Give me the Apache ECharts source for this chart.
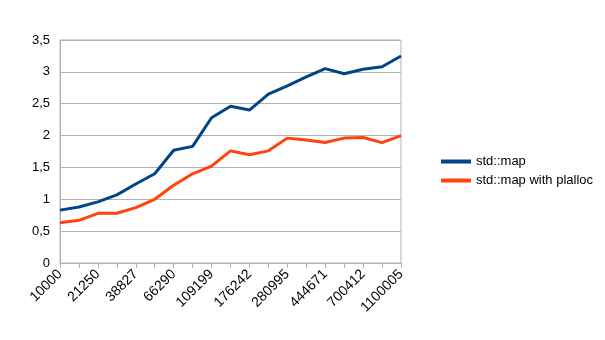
<!DOCTYPE html>
<html>
<head>
<meta charset="utf-8">
<script src="https://cdn.jsdelivr.net/npm/echarts@6/dist/echarts.min.js"></script>
<style>
  html, body { margin: 0; padding: 0; background: #fff; }
  #chart { width: 605px; height: 340px; }
</style>
</head>
<body>
<div id="chart"></div>
<script>
// Container sizes (number of elements)
const sizes = [
  '10000', '15000', '21250', '29062', '38827', '51033', '66290', '85362',
  '109199', '138998', '176242', '222802', '280995', '353743', '444671',
  '558338', '700412', '878015', '1100005'
];

// Timings for plain std::map
const stdMap = [
  0.83, 0.88, 0.96, 1.07, 1.24, 1.40, 1.77, 1.83, 2.28, 2.46,
  2.40, 2.65, 2.78, 2.92, 3.05, 2.97, 3.04, 3.08, 3.25
];

// Timings for std::map using the plalloc allocator
const stdMapPlalloc = [
  0.63, 0.67, 0.78, 0.78, 0.87, 1.00, 1.22, 1.40, 1.52, 1.76,
  1.70, 1.76, 1.96, 1.93, 1.89, 1.96, 1.97, 1.89, 2.00
];

const yTicks = { min: 0, max: 3.5, interval: 0.5 };

const font = 'Liberation Sans, Arial, sans-serif';
const gridColor = '#b3b3b3';

const chart = echarts.init(document.getElementById('chart'), null, { renderer: 'canvas' });

chart.setOption({
  animation: false,
  backgroundColor: '#ffffff',
  grid: {
    left: 60, right: 204, top: 40, bottom: 77,
    show: true, borderColor: gridColor, borderWidth: 1
  },
  legend: {
    orient: 'vertical',
    left: 436, top: 150,
    itemWidth: 30, itemHeight: 4, itemGap: 6,
    icon: 'rect',
    textStyle: { fontFamily: font, fontSize: 13, color: '#000' },
    data: ['std::map', 'std::map with plalloc']
  },
  xAxis: {
    type: 'category',
    data: sizes,
    boundaryGap: false,
    axisLine: { lineStyle: { color: gridColor, width: 1 } },
    axisTick: { show: true, length: 5, alignWithLabel: true, interval: 0, lineStyle: { color: gridColor } },
    axisLabel: {
      interval: 1, rotate: 45, margin: 9,
      fontFamily: font, fontSize: 14, color: '#000'
    },
    splitLine: { show: false }
  },
  yAxis: {
    type: 'value',
    min: yTicks.min, max: yTicks.max, interval: yTicks.interval,
    axisLine: { show: true, lineStyle: { color: gridColor, width: 1 } },
    axisTick: { show: false },
    axisLabel: {
      margin: 10,
      fontFamily: font, fontSize: 13, color: '#000',
      formatter: v => String(v).replace('.', ',')
    },
    splitLine: { lineStyle: { color: gridColor, width: 1 } }
  },
  series: [
    {
      name: 'std::map', type: 'line', data: stdMap,
      showSymbol: false, symbol: 'none',
      lineStyle: { color: '#004586', width: 3 },
      itemStyle: { color: '#004586' }
    },
    {
      name: 'std::map with plalloc', type: 'line', data: stdMapPlalloc,
      showSymbol: false, symbol: 'none',
      lineStyle: { color: '#ff420e', width: 3 },
      itemStyle: { color: '#ff420e' }
    }
  ]
});
</script>
</body>
</html>
